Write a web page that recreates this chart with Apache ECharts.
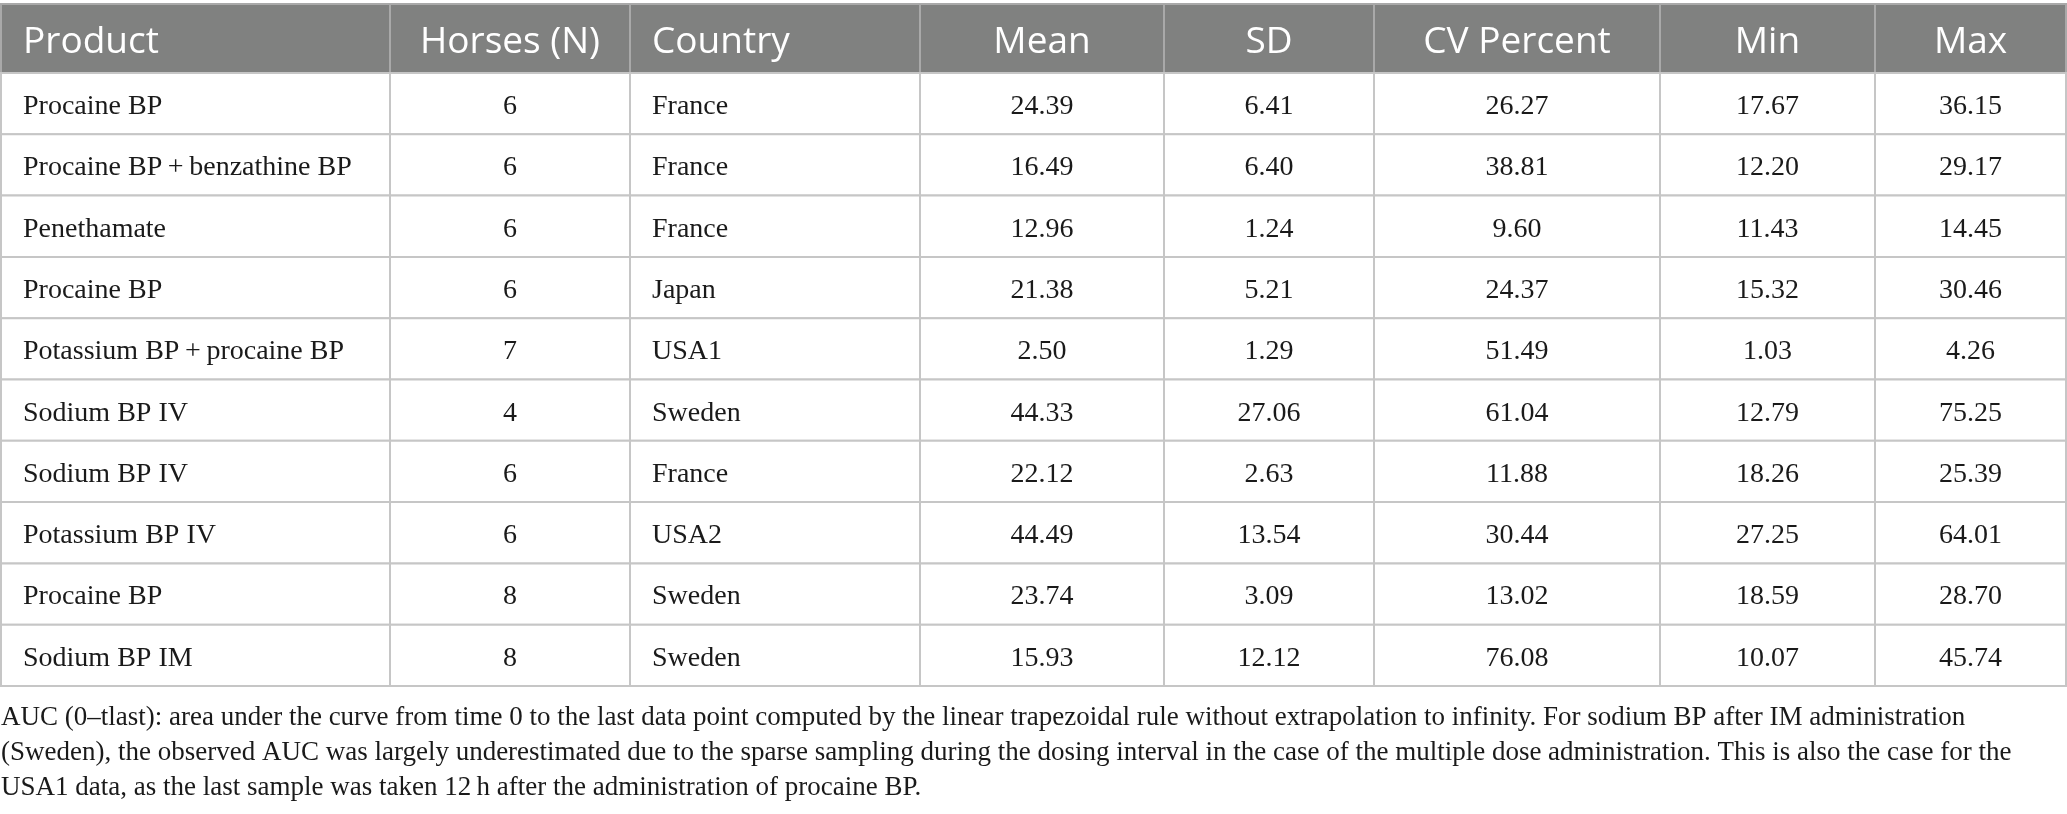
<!DOCTYPE html>
<html>
<head>
<meta charset="utf-8">
<script src="https://cdn.jsdelivr.net/npm/echarts@6/dist/echarts.min.js"></script>
<style>
  html, body { margin: 0; padding: 0; background: #fff; }
  #main { width: 2067px; height: 814px; }
</style>
</head>
<body>
<div id="main"></div>
<script>
'use strict';
// table data
const columns = ['Product', 'Horses (N)', 'Country', 'Mean', 'SD', 'CV Percent', 'Min', 'Max'];
const products = ['Procaine BP', 'Procaine BP\u2009+\u2009benzathine BP', 'Penethamate', 'Procaine BP',
    'Potassium BP\u2009+\u2009procaine BP', 'Sodium BP IV', 'Sodium BP IV', 'Potassium BP IV',
    'Procaine BP', 'Sodium BP IM'];
const horses = [6, 6, 6, 6, 7, 4, 6, 6, 8, 8];
const countries = ['France', 'France', 'France', 'Japan', 'USA1', 'Sweden', 'France', 'USA2', 'Sweden', 'Sweden'];
const means = [24.39, 16.49, 12.96, 21.38, 2.50, 44.33, 22.12, 44.49, 23.74, 15.93];
const sds = [6.41, 6.40, 1.24, 5.21, 1.29, 27.06, 2.63, 13.54, 3.09, 12.12];
const cvPercents = [26.27, 38.81, 9.60, 24.37, 51.49, 61.04, 11.88, 30.44, 13.02, 76.08];
const mins = [17.67, 12.20, 11.43, 15.32, 1.03, 12.79, 18.26, 27.25, 18.59, 10.07];
const maxs = [36.15, 29.17, 14.45, 30.46, 4.26, 75.25, 25.39, 64.01, 28.70, 45.74];
const footnoteLines = [
    'AUC (0\u2013tlast): area under the curve from time 0 to the last data point computed by the linear trapezoidal rule without extrapolation to infinity. For sodium BP after IM administration',
    '(Sweden), the observed AUC was largely underestimated due to the sparse sampling during the dosing interval in the case of the multiple dose administration. This is also the case for the',
    'USA1 data, as the last sample was taken 12\u2009h after the administration of procaine BP.'
];

// layout
const colWidths = [389, 240, 290, 244, 210, 286, 215, 191];
const colAlign = ['left', 'center', 'left', 'center', 'center', 'center', 'center', 'center'];
const headerHeight = 69;
const rowHeight = 61.3;
const padLeft = 22;

const colEdges = [0];
colWidths.forEach(w => colEdges.push(colEdges[colEdges.length - 1] + w));
const rowEdges = [0, headerHeight];
products.forEach(() => rowEdges.push(rowEdges[rowEdges.length - 1] + rowHeight));
const tableWidth = colEdges[colEdges.length - 1];
const tableHeight = rowEdges[rowEdges.length - 1];

const fmt = v => v.toFixed(2);
const cells = [];
columns.forEach((name, c) => cells.push([c, 0, name]));
products.forEach((p, i) => {
    const row = [p, String(horses[i]), countries[i], fmt(means[i]), fmt(sds[i]),
        fmt(cvPercents[i]), fmt(mins[i]), fmt(maxs[i])];
    row.forEach((t, c) => cells.push([c, i + 1, t]));
});

const renderCell = (params, api) => {
    const c = api.value(0);
    const r = api.value(1);
    const text = cells[params.dataIndex][2];
    const p0 = api.coord([colEdges[c], rowEdges[r]]);
    const p1 = api.coord([colEdges[c + 1], rowEdges[r + 1]]);
    const isHeader = r === 0;
    const align = colAlign[c];
    const tx = align === 'left' ? p0[0] + padLeft : (p0[0] + p1[0]) / 2;
    return {
        type: 'group',
        children: [{
            type: 'rect',
            shape: { x: p0[0], y: p0[1], width: p1[0] - p0[0], height: p1[1] - p0[1] },
            style: {
                fill: isHeader ? '#808180' : '#ffffff',
                stroke: isHeader ? '#a9a9a9' : '#c6c6c6',
                lineWidth: 2
            }
        }, {
            type: 'text',
            style: {
                text: text,
                x: tx,
                y: (p0[1] + p1[1]) / 2 + (isHeader ? 4 : 3),
                align: align,
                verticalAlign: 'middle',
                fill: isHeader ? '#ffffff' : '#1a1a1a',
                font: isHeader ? '37px "Open Sans"' : '28px "Liberation Serif"'
            }
        }]
    };
};

const chart = echarts.init(document.getElementById('main'));
chart.setOption({
    animation: false,
    backgroundColor: '#ffffff',
    grid: { left: 1, top: 4, width: 2065, height: tableHeight },
    xAxis: { type: 'value', min: 0, max: tableWidth, show: false },
    yAxis: { type: 'value', min: 0, max: tableHeight, inverse: true, show: false },
    series: [{
        type: 'custom',
        renderItem: renderCell,
        data: cells.map(d => [d[0], d[1]]),
        clip: false,
        silent: true
    }],
    graphic: footnoteLines.map((line, i) => ({
        type: 'text',
        left: 1,
        top: 704 + i * 35,
        style: {
            text: line,
            fill: '#1a1a1a',
            font: '27px "Liberation Serif"'
        }
    }))
});
</script>
</body>
</html>
